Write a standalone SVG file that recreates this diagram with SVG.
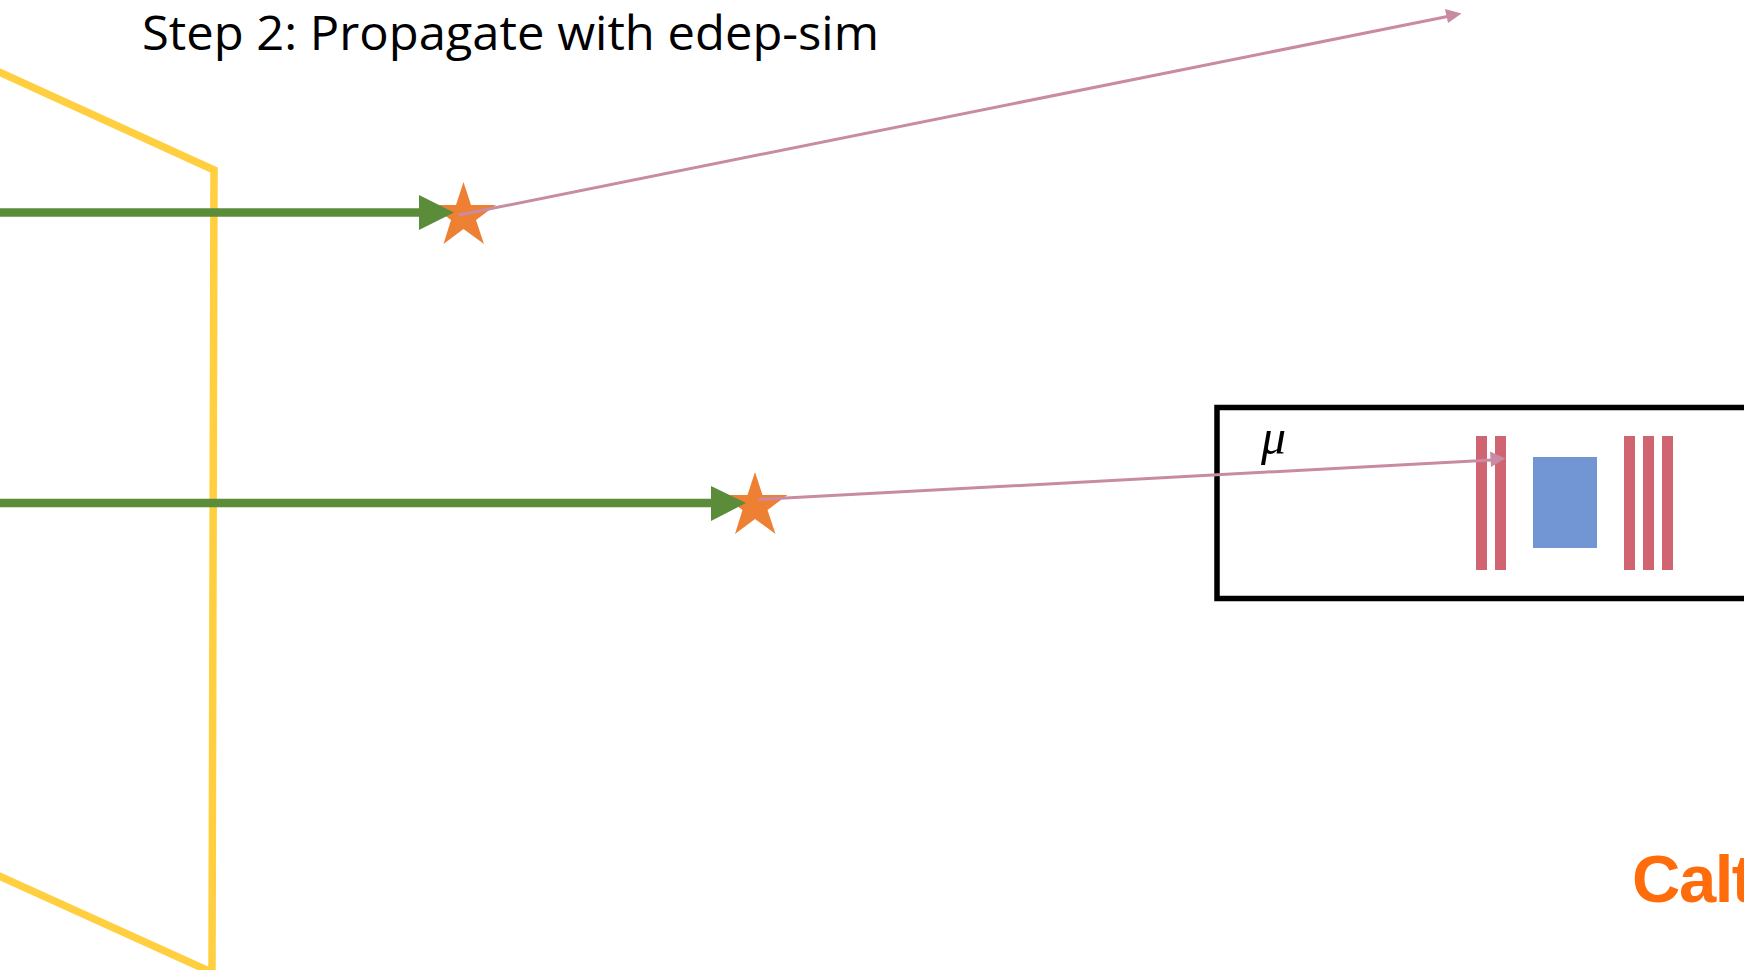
<svg xmlns="http://www.w3.org/2000/svg" width="1744" height="970" viewBox="0 0 1744 970">
<defs>
<style>
.beam{stroke:#5b8c3a;stroke-width:8.500;fill:none}
.head{fill:#5b8c3a}
.star{fill:#ee8033}
.trk{stroke:#c98aa3;stroke-width:3;fill:none}
.thead{fill:#c98aa3}
.bar{fill:#d06470}
</style>
</defs>
<rect width="1744" height="970" fill="#ffffff"/>
<g id="title"><text x="142" y="50" font-family="'Open Sans',sans-serif" font-size="47" textLength="737" lengthAdjust="spacingAndGlyphs" fill="#000">Step 2: Propagate with edep-sim</text></g>
<g id="target"><path d="M-5 70L214 170L212 972M-5 874L211 972" fill="none" stroke="#ffcf40" stroke-width="7.500"/></g>
<g id="detector">
<rect x="1217" y="407.500" width="540" height="191" fill="none" stroke="#000" stroke-width="5.500"/>
<rect class="bar" x="1476" y="436" width="11" height="134"/>
<rect class="bar" x="1495" y="436" width="11" height="134"/>
<rect x="1533" y="457" width="64" height="91" fill="#7295d3"/>
<rect class="bar" x="1624" y="436" width="11" height="134"/>
<rect class="bar" x="1643" y="436" width="11" height="134"/>
<rect class="bar" x="1662" y="436" width="11" height="134"/>
<text x="1261" y="454" font-family="'Liberation Serif',serif" font-style="italic" font-size="50" fill="#000">μ</text>
</g>
<g id="star1"><polygon class="star" points="463.500,182 471,205 496,205 476,220 484,244 463.500,229 443.500,244 451,220 431,205 456,205"/></g>
<g id="star2"><polygon class="star" points="755,182 762.500,205 787.500,205 767.500,220 775.500,244 755,229 735,244 742.500,220 722.500,205 747.500,205" transform="translate(0,290)"/></g>
<g id="connectors">
<line class="beam" x1="0" y1="212.500" x2="422" y2="212.500"/>
<polygon class="head" points="419,195 454,212.500 419,230"/>
<line class="beam" x1="0" y1="503" x2="714" y2="503"/>
<polygon class="head" points="711,486 746,503 711,521"/>
<line class="trk" x1="459" y1="215" x2="1450" y2="16"/>
<polygon class="thead" points="1461.500,13.500 1445,9 1448,23"/>
<line class="trk" x1="759" y1="499.500" x2="1492" y2="460"/>
<polygon class="thead" points="1505.500,458.500 1490,451.500 1491,467"/>
</g>
<g id="logo"><text x="1632" y="902" font-family="'Liberation Sans',sans-serif" font-weight="700" font-size="67" letter-spacing="-1.500" fill="#ff6c0c">Calt</text></g>
</svg>
